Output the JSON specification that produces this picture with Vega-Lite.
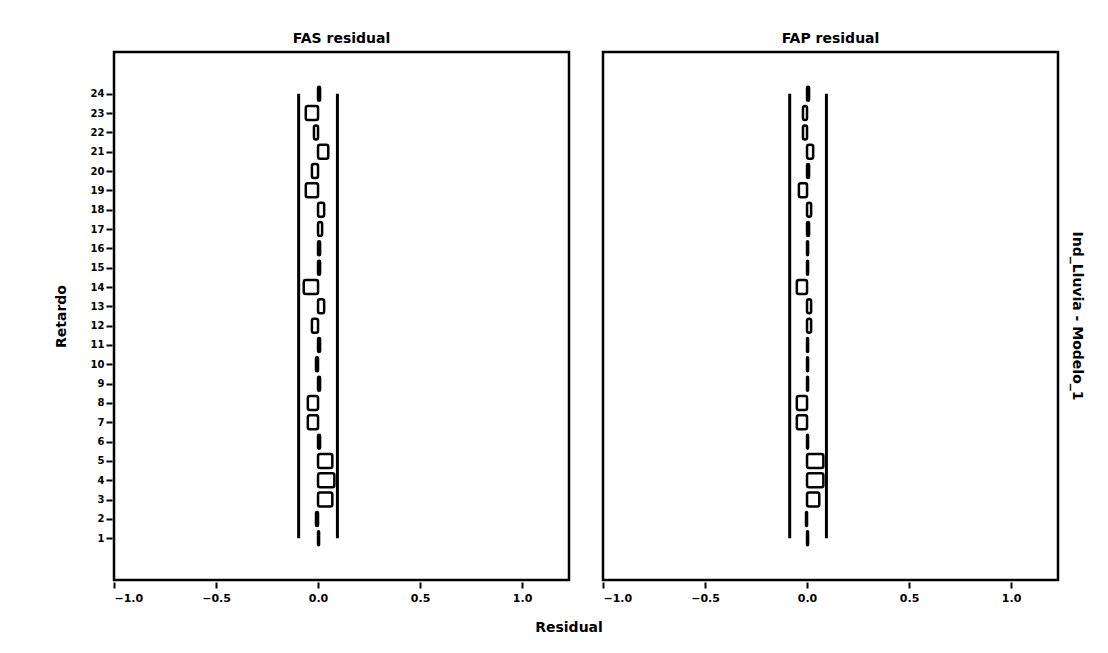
{
  "$schema": "https://vega.github.io/schema/vega-lite/v6.json",
  "padding": {"left": 54, "top": 32, "right": 10, "bottom": 5},
  "background": "white",
  "title": {"text": "Residual", "orient": "bottom", "anchor": "middle", "font": "DejaVu Sans", "fontWeight": "bold", "fontSize": 14, "color": "black", "offset": 18},
  "data": {"values": [
    {"fn": "FAS residual", "model": "Ind_Lluvia - Modelo_1", "lag": 1, "value": 0.005, "lower": -0.095, "upper": 0.095},
    {"fn": "FAS residual", "model": "Ind_Lluvia - Modelo_1", "lag": 2, "value": -0.01, "lower": -0.095, "upper": 0.095},
    {"fn": "FAS residual", "model": "Ind_Lluvia - Modelo_1", "lag": 3, "value": 0.07, "lower": -0.095, "upper": 0.095},
    {"fn": "FAS residual", "model": "Ind_Lluvia - Modelo_1", "lag": 4, "value": 0.08, "lower": -0.095, "upper": 0.095},
    {"fn": "FAS residual", "model": "Ind_Lluvia - Modelo_1", "lag": 5, "value": 0.07, "lower": -0.095, "upper": 0.095},
    {"fn": "FAS residual", "model": "Ind_Lluvia - Modelo_1", "lag": 6, "value": 0.01, "lower": -0.095, "upper": 0.095},
    {"fn": "FAS residual", "model": "Ind_Lluvia - Modelo_1", "lag": 7, "value": -0.05, "lower": -0.095, "upper": 0.095},
    {"fn": "FAS residual", "model": "Ind_Lluvia - Modelo_1", "lag": 8, "value": -0.05, "lower": -0.095, "upper": 0.095},
    {"fn": "FAS residual", "model": "Ind_Lluvia - Modelo_1", "lag": 9, "value": 0.01, "lower": -0.095, "upper": 0.095},
    {"fn": "FAS residual", "model": "Ind_Lluvia - Modelo_1", "lag": 10, "value": -0.01, "lower": -0.095, "upper": 0.095},
    {"fn": "FAS residual", "model": "Ind_Lluvia - Modelo_1", "lag": 11, "value": 0.01, "lower": -0.095, "upper": 0.095},
    {"fn": "FAS residual", "model": "Ind_Lluvia - Modelo_1", "lag": 12, "value": -0.03, "lower": -0.095, "upper": 0.095},
    {"fn": "FAS residual", "model": "Ind_Lluvia - Modelo_1", "lag": 13, "value": 0.03, "lower": -0.095, "upper": 0.095},
    {"fn": "FAS residual", "model": "Ind_Lluvia - Modelo_1", "lag": 14, "value": -0.07, "lower": -0.095, "upper": 0.095},
    {"fn": "FAS residual", "model": "Ind_Lluvia - Modelo_1", "lag": 15, "value": 0.01, "lower": -0.095, "upper": 0.095},
    {"fn": "FAS residual", "model": "Ind_Lluvia - Modelo_1", "lag": 16, "value": 0.01, "lower": -0.095, "upper": 0.095},
    {"fn": "FAS residual", "model": "Ind_Lluvia - Modelo_1", "lag": 17, "value": 0.02, "lower": -0.095, "upper": 0.095},
    {"fn": "FAS residual", "model": "Ind_Lluvia - Modelo_1", "lag": 18, "value": 0.03, "lower": -0.095, "upper": 0.095},
    {"fn": "FAS residual", "model": "Ind_Lluvia - Modelo_1", "lag": 19, "value": -0.06, "lower": -0.095, "upper": 0.095},
    {"fn": "FAS residual", "model": "Ind_Lluvia - Modelo_1", "lag": 20, "value": -0.03, "lower": -0.095, "upper": 0.095},
    {"fn": "FAS residual", "model": "Ind_Lluvia - Modelo_1", "lag": 21, "value": 0.05, "lower": -0.095, "upper": 0.095},
    {"fn": "FAS residual", "model": "Ind_Lluvia - Modelo_1", "lag": 22, "value": -0.02, "lower": -0.095, "upper": 0.095},
    {"fn": "FAS residual", "model": "Ind_Lluvia - Modelo_1", "lag": 23, "value": -0.06, "lower": -0.095, "upper": 0.095},
    {"fn": "FAS residual", "model": "Ind_Lluvia - Modelo_1", "lag": 24, "value": 0.01, "lower": -0.095, "upper": 0.095},
    {"fn": "FAP residual", "model": "Ind_Lluvia - Modelo_1", "lag": 1, "value": 0.005, "lower": -0.085, "upper": 0.095},
    {"fn": "FAP residual", "model": "Ind_Lluvia - Modelo_1", "lag": 2, "value": -0.005, "lower": -0.085, "upper": 0.095},
    {"fn": "FAP residual", "model": "Ind_Lluvia - Modelo_1", "lag": 3, "value": 0.06, "lower": -0.085, "upper": 0.095},
    {"fn": "FAP residual", "model": "Ind_Lluvia - Modelo_1", "lag": 4, "value": 0.08, "lower": -0.085, "upper": 0.095},
    {"fn": "FAP residual", "model": "Ind_Lluvia - Modelo_1", "lag": 5, "value": 0.08, "lower": -0.085, "upper": 0.095},
    {"fn": "FAP residual", "model": "Ind_Lluvia - Modelo_1", "lag": 6, "value": 0.005, "lower": -0.085, "upper": 0.095},
    {"fn": "FAP residual", "model": "Ind_Lluvia - Modelo_1", "lag": 7, "value": -0.05, "lower": -0.085, "upper": 0.095},
    {"fn": "FAP residual", "model": "Ind_Lluvia - Modelo_1", "lag": 8, "value": -0.05, "lower": -0.085, "upper": 0.095},
    {"fn": "FAP residual", "model": "Ind_Lluvia - Modelo_1", "lag": 9, "value": 0.005, "lower": -0.085, "upper": 0.095},
    {"fn": "FAP residual", "model": "Ind_Lluvia - Modelo_1", "lag": 10, "value": 0.005, "lower": -0.085, "upper": 0.095},
    {"fn": "FAP residual", "model": "Ind_Lluvia - Modelo_1", "lag": 11, "value": 0.005, "lower": -0.085, "upper": 0.095},
    {"fn": "FAP residual", "model": "Ind_Lluvia - Modelo_1", "lag": 12, "value": 0.02, "lower": -0.085, "upper": 0.095},
    {"fn": "FAP residual", "model": "Ind_Lluvia - Modelo_1", "lag": 13, "value": 0.02, "lower": -0.085, "upper": 0.095},
    {"fn": "FAP residual", "model": "Ind_Lluvia - Modelo_1", "lag": 14, "value": -0.05, "lower": -0.085, "upper": 0.095},
    {"fn": "FAP residual", "model": "Ind_Lluvia - Modelo_1", "lag": 15, "value": 0.005, "lower": -0.085, "upper": 0.095},
    {"fn": "FAP residual", "model": "Ind_Lluvia - Modelo_1", "lag": 16, "value": 0.005, "lower": -0.085, "upper": 0.095},
    {"fn": "FAP residual", "model": "Ind_Lluvia - Modelo_1", "lag": 17, "value": 0.01, "lower": -0.085, "upper": 0.095},
    {"fn": "FAP residual", "model": "Ind_Lluvia - Modelo_1", "lag": 18, "value": 0.02, "lower": -0.085, "upper": 0.095},
    {"fn": "FAP residual", "model": "Ind_Lluvia - Modelo_1", "lag": 19, "value": -0.04, "lower": -0.085, "upper": 0.095},
    {"fn": "FAP residual", "model": "Ind_Lluvia - Modelo_1", "lag": 20, "value": 0.01, "lower": -0.085, "upper": 0.095},
    {"fn": "FAP residual", "model": "Ind_Lluvia - Modelo_1", "lag": 21, "value": 0.03, "lower": -0.085, "upper": 0.095},
    {"fn": "FAP residual", "model": "Ind_Lluvia - Modelo_1", "lag": 22, "value": -0.02, "lower": -0.085, "upper": 0.095},
    {"fn": "FAP residual", "model": "Ind_Lluvia - Modelo_1", "lag": 23, "value": -0.02, "lower": -0.085, "upper": 0.095},
    {"fn": "FAP residual", "model": "Ind_Lluvia - Modelo_1", "lag": 24, "value": 0.01, "lower": -0.085, "upper": 0.095}
  ]},
  "facet": {
    "column": {"field": "fn", "type": "nominal", "sort": ["FAS residual", "FAP residual"],
      "header": {"title": null, "labelFontSize": 14, "labelFontWeight": "bold", "labelFont": "DejaVu Sans", "labelPadding": 4, "labelColor": "black"}},
    "row": {"field": "model", "type": "nominal",
      "header": {"title": null, "labelOrient": "right", "labelAngle": 90, "labelFontSize": 14, "labelFontWeight": "bold", "labelFont": "DejaVu Sans", "labelPadding": 10, "labelColor": "black"}}
  },
  "spacing": {"column": 30, "row": 0},
  "spec": {
    "width": 455,
    "height": 528,
    "encoding": {
      "y": {"field": "lag", "type": "quantitative",
        "scale": {"domain": [-0.9, 25.9], "nice": false, "zero": false},
        "axis": {"title": "Retardo", "values": [1,2,3,4,5,6,7,8,9,10,11,12,13,14,15,16,17,18,19,20,21,22,23,24], "format": "d", "grid": false,
          "labelOverlap": false, "tickCount": 24,
          "domain": false, "tickColor": "black", "tickWidth": 2, "tickSize": 6,
          "labelFont": "DejaVu Sans", "labelFontWeight": "bold", "labelFontSize": 10, "labelColor": "black", "labelPadding": 2,
          "titleFont": "DejaVu Sans", "titleFontWeight": "bold", "titleFontSize": 14, "titleColor": "black", "titlePadding": 22}}
    },
    "layer": [
      {
        "mark": {"type": "line", "color": "black", "strokeWidth": 3},
        "encoding": {
          "x": {"field": "lower", "type": "quantitative",
            "scale": {"domain": [-1, 1.23], "nice": false, "zero": false},
            "axis": {"title": null, "values": [-1, -0.5, 0, 0.5, 1], "format": ".1f", "grid": false,
              "domain": false, "tickColor": "black", "tickWidth": 2, "tickSize": 6,
              "labelFont": "DejaVu Sans", "labelFontWeight": "bold", "labelFontSize": 11, "labelColor": "black", "labelPadding": 4}},
          "order": {"field": "lag", "type": "quantitative"}
        }
      },
      {
        "mark": {"type": "line", "color": "black", "strokeWidth": 3},
        "encoding": {
          "x": {"field": "upper", "type": "quantitative"},
          "order": {"field": "lag", "type": "quantitative"}
        }
      },
      {
        "mark": {"type": "bar", "fill": "white", "stroke": "black", "strokeWidth": 2.5, "size": 14, "cornerRadius": 2},
        "encoding": {
          "x": {"field": "value", "type": "quantitative"},
          "x2": {"datum": 0}
        }
      }
    ]
  },
  "config": {
    "view": {"stroke": "black", "strokeWidth": 2.5, "fill": "white"}
  }
}
